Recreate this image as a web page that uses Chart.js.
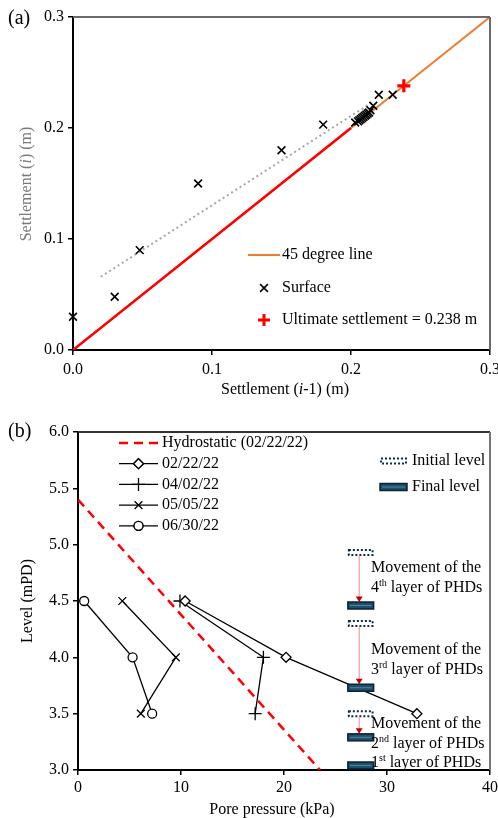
<!DOCTYPE html>
<html>
<head>
<meta charset="utf-8">
<script src="https://cdn.jsdelivr.net/npm/chart.js@4.4.0/dist/chart.umd.min.js"></script>
<style>
  body { margin: 0; background: #fff; width: 498px; height: 818px; overflow: hidden; position: relative; }
  canvas { position: absolute; left: 0; }
  #chartA { top: 0; }
  #chartB { top: 400px; }
</style>
</head>
<body>
<canvas id="chartA" width="498" height="400"></canvas>
<canvas id="chartB" width="498" height="418"></canvas>
<script>
// ---- (a) settlement (i-1) vs settlement (i), metres
const surfPrev = [0, 0.030, 0.048, 0.090, 0.150, 0.180, 0.203, 0.205, 0.206, 0.207, 0.208, 0.209, 0.210, 0.211, 0.212, 0.213, 0.214, 0.216, 0.220, 0.230];
const surfCurr = [0.030, 0.048, 0.090, 0.150, 0.180, 0.203, 0.205, 0.206, 0.207, 0.208, 0.209, 0.210, 0.211, 0.212, 0.213, 0.214, 0.216, 0.220, 0.230, 0.230];
const ultimate = 0.238;
const lineEnds = [0, 0.3];        // 45 degree line
const redEnds = [0, 0.2];         // red part of the 45 degree line
const trendX = [0.02, 0.215];
const trendY = [0.066, 0.223];
const ticksA = [0, 0.1, 0.2, 0.3];

// ---- (b) pore pressure profiles, level in mPD
const levels = [4.5, 4.0, 3.5];
const p022222 = [10.4, 20.2, 32.9];
const p040222 = [9.9, 18.0, 17.2];
const p050522 = [4.3, 9.5, 6.1];
const p063022 = [0.6, 5.3, 7.2];
const hydroP = [0, 23.5];
const hydroLevel = [5.4, 3.0];

// PHD layers
const layerOrd = ['4', '3', '2', '1'];
const layerSup = ['th', 'rd', 'nd', 'st'];
const initialLevel = [4.93, 4.30, 3.50, null];
const finalLevel = [4.46, 3.73, 3.29, 3.04];
const layerP = [26.2, 28.7];   // kPa span of the level markers
const arrowP = 27.3;

const SERIF = '"Liberation Serif", "Times New Roman", serif';
const tickFont = { family: SERIF, size: 16 };

// draw text made of parts, some italic / superscript
function richText(ctx, parts, x, y, align) {
  const fontOf = p => (p.it ? 'italic ' : '') + (p.sup ? 10 : 16) + 'px ' + SERIF;
  let w = 0;
  parts.forEach(p => { ctx.font = fontOf(p); w += ctx.measureText(p.t).width; });
  let cx = align === 'center' ? x - w / 2 : x;
  ctx.textBaseline = 'middle';
  ctx.textAlign = 'left';
  parts.forEach(p => {
    ctx.font = fontOf(p);
    ctx.fillText(p.t, cx, p.sup ? y - 5 : y);
    cx += ctx.measureText(p.t).width;
  });
}

function frame(ctx, area, topColor, rightColor) {
  ctx.save();
  ctx.lineWidth = 2;
  ctx.strokeStyle = topColor;
  ctx.beginPath(); ctx.moveTo(area.left, area.top); ctx.lineTo(area.right, area.top); ctx.stroke();
  ctx.strokeStyle = rightColor;
  ctx.beginPath(); ctx.moveTo(area.right, area.top); ctx.lineTo(area.right, area.bottom); ctx.stroke();
  ctx.restore();
}

function marker(ctx, style, r, lw, color, x, y, fill) {
  ctx.save();
  ctx.strokeStyle = color;
  ctx.lineWidth = lw;
  ctx.fillStyle = fill || color;
  Chart.helpers.drawPoint(ctx, { pointStyle: style, radius: r, borderWidth: lw }, x, y);
  if (fill) { ctx.fill(); ctx.stroke(); }
  ctx.restore();
}

const pts = (xs, ys) => xs.map((x, i) => ({ x, y: ys[i] }));
const noPad = s => { s.paddingLeft = 0; s.paddingRight = 0; };

// ---------- chart (a)
const decorA = {
  id: 'decorA',
  afterDraw(chart) {
    const ctx = chart.ctx;
    const a = chart.chartArea;
    frame(ctx, a, '#6b6b6b', '#6b6b6b');
    ctx.save();
    ctx.fillStyle = '#000';
    ctx.font = '20px ' + SERIF;
    ctx.textBaseline = 'middle';
    ctx.fillText('(a)', 8, 19);
    richText(ctx, [{ t: 'Settlement (' }, { t: 'i', it: true }, { t: '-1) (m)' }], 285, 390, 'center');
    ctx.save();
    ctx.translate(27, 184);
    ctx.rotate(-Math.PI / 2);
    ctx.fillStyle = '#7a7a7a';
    richText(ctx, [{ t: 'Settlement (' }, { t: 'i', it: true }, { t: ') (m)' }], 0, 0, 'center');
    ctx.restore();

    // legend
    ctx.strokeStyle = '#ED7D31';
    ctx.lineWidth = 2;
    ctx.beginPath(); ctx.moveTo(248, 255); ctx.lineTo(280, 255); ctx.stroke();
    marker(ctx, 'crossRot', 5.5, 1.6, '#000', 264, 288);
    marker(ctx, 'cross', 6, 3, '#ff0000', 264, 320);
    ctx.fillStyle = '#000';
    ctx.font = '16px ' + SERIF;
    ctx.textBaseline = 'middle';
    ctx.fillText('45 degree line', 282, 255);
    ctx.fillText('Surface', 282, 288);
    ctx.fillText('Ultimate settlement = 0.238 m', 282, 320);
    ctx.restore();
  }
};

new Chart(document.getElementById('chartA'), {
  type: 'scatter',
  data: {
    datasets: [
      { label: 'Ultimate settlement', data: [{ x: ultimate, y: ultimate }], pointStyle: 'cross', pointRadius: 6.5, borderColor: '#FF0000', borderWidth: 3.2, clip: false },
      { label: 'Surface', data: pts(surfPrev, surfCurr), pointStyle: 'crossRot', pointRadius: 5.5, borderColor: '#000', borderWidth: 1.6, clip: false },
      { label: 'trend', data: pts(trendX, trendY), showLine: true, borderColor: '#a6a6a6', borderWidth: 2, borderDash: [2, 3], pointRadius: 0 },
      { label: 'red', data: pts(redEnds, redEnds), showLine: true, borderColor: '#FF0000', borderWidth: 2.5, pointRadius: 0 },
      { label: '45 degree line', data: pts(lineEnds, lineEnds), showLine: true, borderColor: '#ED7D31', borderWidth: 2, pointRadius: 0 }
    ]
  },
  options: {
    responsive: false,
    animation: false,
    layout: { padding: { top: 17, right: 8, left: 0, bottom: 0 }, autoPadding: false },
    plugins: { legend: { display: false }, tooltip: { enabled: false } },
    scales: {
      x: {
        type: 'linear', min: 0, max: 0.3,
        afterBuildTicks: s => { s.ticks = ticksA.map(v => ({ value: v })); },
        ticks: { callback: v => v.toFixed(1), font: tickFont, color: '#000', padding: 5, maxRotation: 0 },
        grid: { drawOnChartArea: false, tickLength: 5, color: '#000', lineWidth: 1.5 },
        border: { color: '#000', width: 2 },
        afterFit: s => { s.height = 50; noPad(s); }
      },
      y: {
        type: 'linear', min: 0, max: 0.3,
        afterBuildTicks: s => { s.ticks = ticksA.map(v => ({ value: v })); },
        ticks: { callback: v => v.toFixed(1), font: tickFont, color: '#000', padding: 4 },
        grid: { drawOnChartArea: false, tickLength: 5, color: '#000', lineWidth: 1.5 },
        border: { color: '#000', width: 2 },
        afterFit: s => { s.width = 73; }
      }
    }
  },
  plugins: [decorA]
});

// ---------- chart (b)
function finalMark(ctx, x0, x1, y) {
  ctx.fillStyle = '#1f4e6b';
  ctx.fillRect(x0, y - 3.5, x1 - x0, 7);
  ctx.strokeStyle = '#0b2234';
  ctx.lineWidth = 1.5;
  ctx.strokeRect(x0, y - 3.5, x1 - x0, 7);
  ctx.strokeStyle = '#4d87a8';
  ctx.lineWidth = 1;
  ctx.beginPath(); ctx.moveTo(x0 + 2, y); ctx.lineTo(x1 - 2, y); ctx.stroke();
}
function initialMark(ctx, x0, x1, y) {
  ctx.save();
  ctx.strokeStyle = '#0d2c45';
  ctx.lineWidth = 2;
  ctx.setLineDash([2, 2]);
  ctx.strokeRect(x0 + 1, y - 2.5, x1 - x0 - 2, 5);
  ctx.restore();
}

const decorB = {
  id: 'decorB',
  afterDatasetsDraw(chart) {
    const ctx = chart.ctx;
    const xs = chart.scales.x, ys = chart.scales.y;
    const x0 = xs.getPixelForValue(layerP[0]), x1 = xs.getPixelForValue(layerP[1]);
    const xa = xs.getPixelForValue(arrowP);
    ctx.save();
    layerOrd.forEach((o, i) => {
      const yf = ys.getPixelForValue(finalLevel[i]);
      if (initialLevel[i] !== null) {
        const yi = ys.getPixelForValue(initialLevel[i]);
        initialMark(ctx, x0, x1, yi);
        ctx.strokeStyle = '#ee8c8c';
        ctx.lineWidth = 1;
        ctx.beginPath(); ctx.moveTo(xa, yi + 3); ctx.lineTo(xa, yf - 8); ctx.stroke();
        ctx.fillStyle = '#c00000';
        ctx.beginPath(); ctx.moveTo(xa - 3.5, yf - 9); ctx.lineTo(xa + 3.5, yf - 9); ctx.lineTo(xa, yf - 3.5); ctx.closePath(); ctx.fill();
      }
      finalMark(ctx, x0, x1, yf);
    });
    ctx.restore();
  },
  afterDraw(chart) {
    const ctx = chart.ctx;
    frame(ctx, chart.chartArea, '#333', '#777');
    ctx.save();
    ctx.fillStyle = '#000';
    ctx.font = '20px ' + SERIF;
    ctx.textBaseline = 'middle';
    ctx.fillText('(b)', 8, 32);
    richText(ctx, [{ t: 'Pore pressure (kPa)' }], 272, 410, 'center');
    ctx.save();
    ctx.translate(28, 201);
    ctx.rotate(-Math.PI / 2);
    richText(ctx, [{ t: 'Level (mPD)' }], 0, 0, 'center');
    ctx.restore();

    // legend of the series
    const ds = chart.data.datasets;
    ds.forEach((d, i) => {
      const y = 43 + i * 20.7;
      ctx.save();
      ctx.strokeStyle = d.borderColor;
      ctx.lineWidth = d.borderWidth;
      ctx.setLineDash(d.borderDash || []);
      ctx.beginPath(); ctx.moveTo(119, y); ctx.lineTo(158, y); ctx.stroke();
      ctx.restore();
      if (d.pointRadius > 0) {
        const filled = d.pointStyle === 'circle' || d.pointStyle === 'rectRot';
        marker(ctx, d.pointStyle, d.pointRadius, d.pointBorderWidth, '#000', 138.5, y, filled ? '#fff' : null);
      }
      ctx.fillStyle = '#000';
      ctx.font = '16px ' + SERIF;
      ctx.textBaseline = 'middle';
      ctx.fillText(d.label, 162, y);
    });

    // legend of the level markers
    initialMark(ctx, 380, 407, 61);
    finalMark(ctx, 380, 407, 87);
    ctx.fillStyle = '#000';
    ctx.font = '16px ' + SERIF;
    ctx.textBaseline = 'middle';
    ctx.fillText('Initial level', 412, 61);
    ctx.fillText('Final level', 412, 87);

    // annotation text
    const notes = [168, 250, 324];
    notes.forEach((y, i) => {
      richText(ctx, [{ t: 'Movement of the' }], 371, y, 'left');
      richText(ctx, [{ t: layerOrd[i] }, { t: layerSup[i], sup: true }, { t: ' layer of PHDs' }], 371, y + 20, 'left');
    });
    richText(ctx, [{ t: layerOrd[3] }, { t: layerSup[3], sup: true }, { t: ' layer of PHDs' }], 371, 363, 'left');
    ctx.restore();
  }
};

const seriesB = (label, pres, style, radius) => ({
  label, data: pts(pres, levels), showLine: true,
  borderColor: '#000', borderWidth: 1.3,
  pointStyle: style, pointRadius: radius, pointBorderWidth: 1.3,
  pointBorderColor: '#000', pointBackgroundColor: '#fff', clip: false
});

new Chart(document.getElementById('chartB'), {
  type: 'scatter',
  data: {
    datasets: [
      { label: 'Hydrostatic (02/22/22)', data: pts(hydroP, hydroLevel), showLine: true, borderColor: '#FF0000', borderWidth: 2.5, borderDash: [9, 6], pointRadius: 0 },
      seriesB('02/22/22', p022222, 'rectRot', 5),
      seriesB('04/02/22', p040222, 'cross', 6.5),
      seriesB('05/05/22', p050522, 'crossRot', 5.5),
      seriesB('06/30/22', p063022, 'circle', 4.5)
    ]
  },
  options: {
    responsive: false,
    animation: false,
    layout: { padding: { top: 32, right: 8, left: 0, bottom: 0 }, autoPadding: false },
    plugins: { legend: { display: false }, tooltip: { enabled: false } },
    scales: {
      x: {
        type: 'linear', min: 0, max: 40,
        ticks: { stepSize: 10, font: tickFont, color: '#000', padding: 3, maxRotation: 0 },
        grid: { drawOnChartArea: false, tickLength: 5, color: '#000', lineWidth: 1.5 },
        border: { color: '#000', width: 2 },
        afterFit: s => { s.height = 48; noPad(s); }
      },
      y: {
        type: 'linear', min: 3, max: 6,
        ticks: { stepSize: 0.5, callback: v => v.toFixed(1), font: tickFont, color: '#000', padding: 4 },
        grid: { drawOnChartArea: false, tickLength: 5, color: '#000', lineWidth: 1.5 },
        border: { color: '#000', width: 2 },
        afterFit: s => { s.width = 78; }
      }
    }
  },
  plugins: [decorB]
});
</script>
</body>
</html>
